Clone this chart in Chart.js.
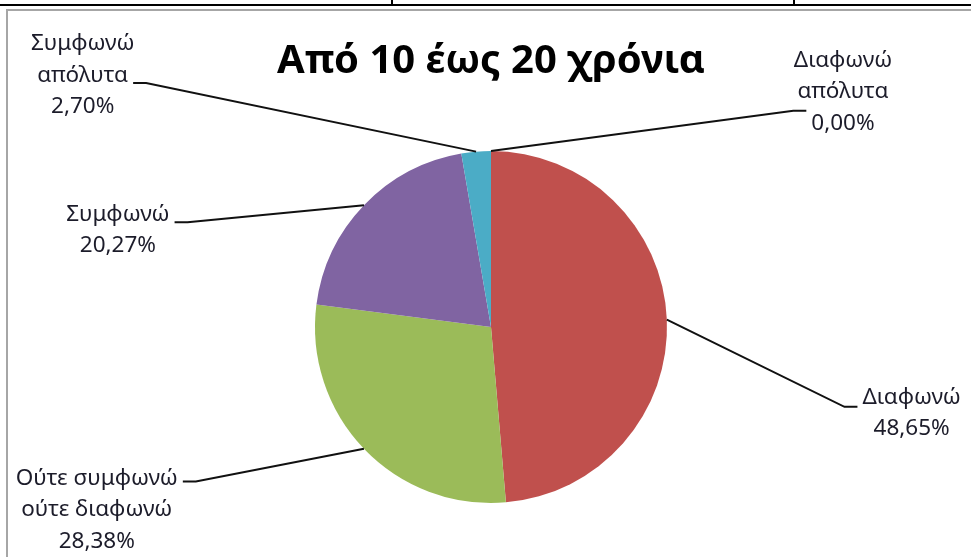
<!DOCTYPE html>
<html>
<head>
<meta charset="utf-8">
<script src="https://cdn.jsdelivr.net/npm/chart.js@4.4.1/dist/chart.umd.min.js"></script>
<style>
  html, body { margin: 0; padding: 0; background: #fff; }
  body { position: relative; width: 971px; height: 557px; overflow: hidden; }
  .rule { position: absolute; left: 0; top: 4px; width: 971px; height: 2px; background: #000; }
  .tick { position: absolute; top: 0; width: 2px; height: 5px; background: #000; }
  .frame { position: absolute; left: 6px; top: 9px; width: 980px; height: 560px;
           border-left: 2px solid #a6a6a6; border-top: 2px solid #a6a6a6; }
  .wrap { position: absolute; left: 8px; top: 11px; width: 963px; height: 546px; }
</style>
</head>
<body>
<div class="rule"></div>
<div class="tick" style="left:391px"></div>
<div class="tick" style="left:793px"></div>
<div class="frame"></div>
<div class="wrap"><canvas id="pie"></canvas></div>
<script>
// data
const categorias = [
    ['Διαφωνώ', 'απόλυτα'],
    ['Διαφωνώ'],
    ['Ούτε συμφωνώ', 'ούτε διαφωνώ'],
    ['Συμφωνώ'],
    ['Συμφωνώ', 'απόλυτα']
];
const porcentajes = [0.00, 48.65, 28.38, 20.27, 2.70];
const titulo = 'Από 10 έως 20 χρόνια';

const colores = ['#4F81BD', '#C0504D', '#9BBB59', '#8064A2', '#4BACC6'];

// where each label block sits, relative to pie centre (in radii), and which line the leader hits
const etiquetas = [
    { dx: 2.0, dy: -1.335, linea: 1.5, lado: 'right' },
    { dx: 2.39, dy: 0.49, linea: 0.2, lado: 'right' },
    { dx: -2.24, dy: 1.04, linea: 0, lado: 'left' },
    { dx: -2.12, dy: -0.55, linea: 0.15, lado: 'left' },
    { dx: -2.32, dy: -1.43, linea: 1.15, lado: 'left' }
];

const fuente = '22.5px "Noto Sans", "DejaVu Sans", sans-serif';
const altoLinea = 31.5;

const pluginEtiquetas = {
    id: 'etiquetas',
    afterDatasetsDraw(chart) {
        const ctx = chart.ctx;
        const arcs = chart.getDatasetMeta(0).data;
        ctx.save();
        ctx.font = fuente;
        arcs.forEach((arc, i) => {
            const { x, y, startAngle, endAngle, outerRadius } = arc.getProps(['x', 'y', 'startAngle', 'endAngle', 'outerRadius'], true);
            const mid = (startAngle + endAngle) / 2;
            const px = x + Math.cos(mid) * outerRadius;
            const py = y + Math.sin(mid) * outerRadius;

            const lineas = categorias[i].concat([porcentajes[i].toFixed(2).replace('.', ',') + '%']);
            const et = etiquetas[i];
            const cx = x + et.dx * outerRadius;
            const cy = y + et.dy * outerRadius;
            const top = cy - (lineas.length - 1) * altoLinea / 2;
            const anchoTexto = ctx.measureText(lineas[Math.round(et.linea)] || lineas[0]).width;

            // leader line
            const ly = top + et.linea * altoLinea + 3;
            const sgn = et.lado === 'right' ? -1 : 1;
            const ex = cx + sgn * (anchoTexto / 2 + 5);
            const kx = ex + sgn * 13;
            ctx.beginPath();
            ctx.strokeStyle = '#111';
            ctx.lineWidth = 2;
            ctx.moveTo(px, py);
            ctx.lineTo(kx, ly);
            ctx.lineTo(ex, ly);
            ctx.stroke();

            ctx.fillStyle = '#1c1c2a';
            ctx.textAlign = 'center';
            ctx.textBaseline = 'middle';
            lineas.forEach((t, k) => ctx.fillText(t, cx, top + k * altoLinea));
        });
        ctx.restore();
    }
};

new Chart(document.getElementById('pie'), {
    type: 'pie',
    data: {
        labels: categorias.map(c => c.join(' ')),
        datasets: [{
            data: porcentajes,
            backgroundColor: colores,
            borderWidth: 0
        }]
    },
    options: {
        responsive: true,
        maintainAspectRatio: false,
        animation: false,
        devicePixelRatio: 1,
        layout: { padding: { left: 3, right: 0, top: 0, bottom: 54 } },
        plugins: {
            legend: { display: false },
            tooltip: { enabled: false },
            title: {
                display: true,
                text: titulo,
                color: '#000',
                font: { family: '"Noto Sans", "DejaVu Sans", sans-serif', size: 40, weight: 'bold' },
                padding: { top: 27, bottom: 65 }
            }
        }
    },
    plugins: [pluginEtiquetas]
});
</script>
</body>
</html>
